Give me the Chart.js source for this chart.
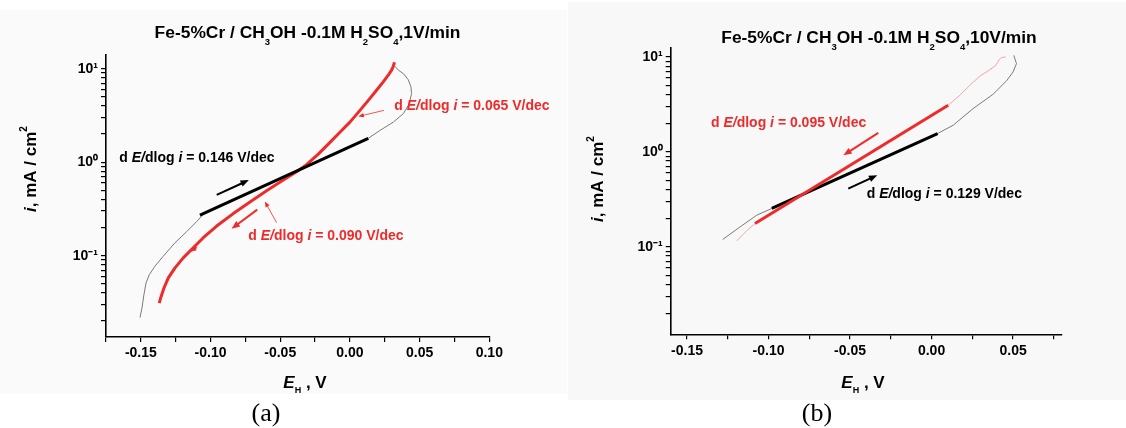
<!DOCTYPE html>
<html><head><meta charset="utf-8">
<script src="https://cdn.jsdelivr.net/npm/chart.js@4/dist/chart.umd.min.js"></script>
<style>
html,body{margin:0;padding:0;background:#fff;width:1126px;height:428px;overflow:hidden;}
#panelA{position:absolute;left:0;top:10px;width:567px;height:384px;background:#fafafa;}
#panelB{position:absolute;left:568px;top:2px;width:558px;height:398px;background:#f8f8f8;}
#cA{position:absolute;left:0;top:0;}
#cB{position:absolute;left:567px;top:0;}
</style></head><body>
<div id="panelA"></div><div id="panelB"></div>
<canvas id="cA" width="567" height="428"></canvas>
<canvas id="cB" width="559" height="428"></canvas>
<script>
// ---------- data : panel (a) 1 V/min ----------
const aForwardE = [-0.1506,-0.1492,-0.1478,-0.1463,-0.1439,-0.1399,-0.1339,-0.1255,-0.1172,-0.1100,-0.1052,0.0132,0.0215,0.0311,0.0383,0.0426,0.0442,0.0438,0.0418,0.0383,0.0347,0.0323];
const aForwardI = [0.0218,0.0275,0.0382,0.051,0.0627,0.0771,0.0988,0.1374,0.1804,0.231,0.2773,1.80,2.18,2.68,3.30,4.22,5.41,6.38,7.65,8.87,9.64,10.6];
const aReverseE = [0.0320,0.0311,0.0299,0.0275,0.0239,0.0191,0.0132,0.0072,0.0000,-0.0072,-0.0143,-0.0227,-0.0311,-0.0383,-0.0478,-0.0598,-0.0717,-0.0837,-0.0956,-0.1052,-0.1124,-0.1196,-0.1255,-0.1303,-0.1334,-0.1358,-0.1368];
const aReverseI = [11.7,10.6,9.64,8.51,7.22,5.87,4.58,3.58,2.68,2.09,1.63,1.22,0.94,0.79,0.643,0.494,0.376,0.282,0.2075,0.1556,0.1214,0.0948,0.074,0.0578,0.0451,0.0352,0.0311];
const aFitE = [-0.1076, 0.0132];
const aFitI = [0.272, 1.80];
const aArrowFromE = [-0.0956,-0.0665,0.0244,-0.0526,-0.1100];
const aArrowFromI = [0.447,0.311,3.58,0.2255,0.1235];
const aArrowToE   = [-0.0725,-0.0849,0.0060,-0.0610,-0.1148];
const aArrowToI   = [0.643,0.194,3.08,0.379,0.110];

// ---------- data : panel (b) 10 V/min ----------
const bForwardE = [-0.1281,-0.1174,-0.1072,-0.0980,0.0037,0.0133,0.0255,0.0378,0.0460,0.0500,0.0521,0.0504];
const bForwardI = [0.1196,0.1626,0.2155,0.2535,1.56,1.91,2.86,4.05,5.60,6.95,8.51,10.4];
const bReverseE = [0.0455,0.0429,0.0415,0.0404,0.0388,0.0347,0.0296,0.0235,0.0174,0.0102,-0.1083,-0.1134,-0.1195];
const bReverseI = [10.0,9.85,9.38,8.65,7.98,7.13,6.27,5.03,3.95,3.10,0.176,0.1475,0.1157];
const bFitBlackE = [-0.0980, 0.0037];
const bFitBlackI = [0.2535, 1.56];
const bFitRedE = [0.0102, -0.1083];
const bFitRedI = [3.10, 0.176];
const bArrowFromE = [-0.0327,-0.0511];
const bArrowFromI = [1.585,0.411];
const bArrowToE   = [-0.0541,-0.0333];
const bArrowToI   = [0.922,0.568];

// ---------- ticks ----------
const aXTicks = [-0.175,-0.15,-0.125,-0.10,-0.075,-0.05,-0.025,0,0.025,0.05,0.075,0.10];
const aXLabels = ['','-0.15','','-0.10','','-0.05','','0.00','','0.05','','0.10'];
const bXTicks = [-0.15,-0.125,-0.10,-0.075,-0.05,-0.025,0,0.025,0.05,0.075];
const bXLabels = ['-0.15','','-0.10','','-0.05','','0.00','','0.05',''];
const yTicks = [0.02,0.03,0.04,0.05,0.06,0.07,0.08,0.09,0.1,0.2,0.3,0.4,0.5,0.6,0.7,0.8,0.9,1,2,3,4,5,6,7,8,9,10];
const yMajorValues = [0.1, 1, 10];
const yMajorLabels = ['10\u207B\u00B9','10\u2070','10\u00B9'];

// ---------- drawing helpers ----------
const SANS = "'Liberation Sans', Arial, Helvetica, sans-serif";
const SERIF = "'Liberation Serif', 'Times New Roman', serif";
const RED = '#ee2b2b';
const pts = (xs, ys) => xs.map((x, k) => ({x, y: ys[k]}));
const B = s => 'bold ' + s + 'px ' + SANS;
const BI = s => 'italic bold ' + s + 'px ' + SANS;

function drawRich(ctx, runs, x, y, align, color) {
  let w = 0;
  for (const r of runs) { ctx.font = r.f; w += ctx.measureText(r.t).width; }
  let cx = align === 'center' ? x - w / 2 : (align === 'right' ? x - w : x);
  ctx.textAlign = 'left'; ctx.textBaseline = 'alphabetic';
  for (const r of runs) {
    ctx.font = r.f; ctx.fillStyle = r.c || color;
    ctx.fillText(r.t, cx, y + (r.dy || 0));
    cx += ctx.measureText(r.t).width;
  }
}
function arrow(ctx, x1, y1, x2, y2, color, lw, head) {
  const a = Math.atan2(y2 - y1, x2 - x1);
  ctx.save();
  ctx.strokeStyle = color; ctx.fillStyle = color; ctx.lineWidth = lw; ctx.lineCap = 'butt';
  ctx.beginPath(); ctx.moveTo(x1, y1);
  ctx.lineTo(x2 - Math.cos(a) * head * 0.7, y2 - Math.sin(a) * head * 0.7); ctx.stroke();
  ctx.beginPath(); ctx.moveTo(x2, y2);
  ctx.lineTo(x2 - head * Math.cos(a - 0.38), y2 - head * Math.sin(a - 0.38));
  ctx.lineTo(x2 - head * Math.cos(a + 0.38), y2 - head * Math.sin(a + 0.38));
  ctx.closePath(); ctx.fill();
  ctx.restore();
}
function slopeRuns(val, size) {
  return [
    {t: 'd ', f: B(size)}, {t: 'E/', f: BI(size)}, {t: 'dlog ', f: B(size)},
    {t: 'i', f: BI(size)}, {t: ' = ' + val + ' V/dec', f: B(size)}
  ];
}

function decor(p) {
  return {
    id: 'decor' + p.id,
    afterDatasetsDraw(chart) {
      const ctx = chart.ctx, xs = chart.scales.x, ys = chart.scales.y;
      p.arrows.fromE.forEach((e, k) => {
        const st = p.arrowStyle[k];
        arrow(ctx, xs.getPixelForValue(e), ys.getPixelForValue(p.arrows.fromI[k]),
              xs.getPixelForValue(p.arrows.toE[k]), ys.getPixelForValue(p.arrows.toI[k]),
              st[0], st[1], st[2]);
      });
    },
    afterDraw(chart) {
      const ctx = chart.ctx;
      ctx.save();
      // title
      drawRich(ctx, [
        {t: 'Fe-5%Cr / CH', f: B(17.4)}, {t: '3', f: B(9.5), dy: 7}, {t: 'OH -0.1M H', f: B(17.4)},
        {t: '2', f: B(9.5), dy: 7}, {t: 'SO', f: B(17.4)}, {t: '4', f: B(9.5), dy: 7}, {t: ',' + p.rate, f: B(17.4)}
      ], p.titleX, p.titleY, 'center', '#000');
      // x title
      drawRich(ctx, [{t: 'E', f: BI(17)}, {t: 'H', f: B(9), dy: 5.5}, {t: ' , V', f: B(17)}],
               p.xtX, p.xtY, 'center', '#000');
      // y title
      ctx.save();
      ctx.translate(p.ytX, p.ytY); ctx.rotate(-Math.PI / 2);
      drawRich(ctx, [{t: 'i', f: BI(17)}, {t: ', mA / cm', f: B(17)}, {t: '2', f: B(10), dy: -9}],
               0, 0, 'center', '#000');
      ctx.restore();
      // slope annotations
      p.notes.forEach(n => drawRich(ctx, slopeRuns(n.v, 14), n.x, n.y, 'left', n.c));
      // panel letter
      ctx.font = '26px ' + SERIF; ctx.fillStyle = '#000'; ctx.textAlign = 'center';
      ctx.fillText(p.letter, p.letterX, p.letterY);
      ctx.restore();
    }
  };
}

function build(id, p) {
  return new Chart(document.getElementById(id), {
    type: 'scatter',
    data: {datasets: p.datasets},
    options: {
      responsive: false, animation: false, devicePixelRatio: 1,
      layout: {padding: {left: 0, top: p.top, right: p.right, bottom: 0}},
      plugins: {legend: {display: false}, tooltip: {enabled: false}, title: {display: false}},
      elements: {point: {radius: 0}, line: {tension: 0}},
      scales: {
        x: {
          type: 'linear', min: p.xMin, max: p.xMax,
          afterFit: s => { s.height = p.xAxisH; },
          afterBuildTicks: s => { s.ticks = p.xTicks.map(v => ({value: v})); },
          grid: {drawOnChartArea: false, drawTicks: true, tickLength: 5, color: '#000', lineWidth: 1.2},
          border: {display: true, color: '#000', width: 1.6},
          ticks: {color: '#000', font: {family: SANS, size: 14, weight: 'bold'}, padding: 3,
                  autoSkip: false, maxRotation: 0, minRotation: 0,
                  callback: (v, i) => p.xLabels[i]}
        },
        y: {
          type: 'logarithmic', min: p.yMin, max: p.yMax,
          afterFit: s => { s.width = p.yAxisW; },
          afterBuildTicks: s => { s.ticks = yTicks.map(v => ({value: v})); },
          grid: {drawOnChartArea: false, drawTicks: true, tickLength: 5, color: '#000', lineWidth: 1.2},
          border: {display: true, color: '#000', width: 1.6},
          ticks: {color: '#000', font: {family: SANS, size: 14, weight: 'bold'}, padding: 3, autoSkip: false,
                  callback: (v) => {
                    const k = yMajorValues.findIndex(m => Math.abs(m - v) / m < 1e-6);
                    return k >= 0 ? yMajorLabels[k] : '';
                  }}
        }
      }
    },
    plugins: [decor(p)]
  });
}

const lineDs = (data, color, w, order) => ({data, showLine: true, borderColor: color, borderWidth: w,
  pointRadius: 0, fill: false, order, borderJoinStyle: 'round', borderCapStyle: 'butt'});

build('cA', {
  id: 'A', top: 55, right: 77.7, xAxisH: 91, yAxisW: 106,
  xMin: -0.175, xMax: 0.10, yMin: 0.0135, yMax: 14,
  xTicks: aXTicks, xLabels: aXLabels,
  datasets: [
    lineDs(pts(aForwardE, aForwardI), '#7a7a7a', 1, 3),
    lineDs(pts(aReverseE, aReverseI), RED, 3, 2),
    lineDs(pts(aFitE, aFitI), '#000', 3, 1)
  ],
  arrows: {fromE: aArrowFromE, fromI: aArrowFromI, toE: aArrowToE, toI: aArrowToI},
  arrowStyle: [['#000', 2, 9], [RED, 2, 9], [RED, 0.8, 6], [RED, 0.8, 6], [RED, 2, 7]],
  rate: '1V/min', titleX: 307.5, titleY: 37.7,
  xtX: 305, xtY: 387.5, ytX: 35.5, ytY: 169,
  notes: [
    {v: '0.146', x: 119.3, y: 161.7, c: '#000'},
    {v: '0.090', x: 248.3, y: 240, c: RED},
    {v: '0.065', x: 394.3, y: 110, c: RED}
  ],
  letter: '(a)', letterX: 266, letterY: 421
});

build('cB', {
  id: 'B', top: 47.7, right: 64, xAxisH: 93.7, yAxisW: 103.7,
  xMin: -0.16, xMax: 0.08, yMin: 0.012, yMax: 12.5,
  xTicks: bXTicks, xLabels: bXLabels,
  datasets: [
    lineDs(pts(bForwardE, bForwardI), '#7a7a7a', 1, 4),
    lineDs(pts(bReverseE, bReverseI), '#f4a3a3', 1, 3),
    lineDs(pts(bFitBlackE, bFitBlackI), '#000', 3, 2),
    lineDs(pts(bFitRedE, bFitRedI), RED, 3, 1)
  ],
  arrows: {fromE: bArrowFromE, fromI: bArrowFromI, toE: bArrowToE, toI: bArrowToI},
  arrowStyle: [[RED, 2, 9], ['#000', 2, 9]],
  rate: '10V/min', titleX: 312, titleY: 42.5,
  xtX: 296, xtY: 387.5, ytX: 36.3, ytY: 179,
  notes: [
    {v: '0.095', x: 144, y: 126.7, c: RED},
    {v: '0.129', x: 299.7, y: 198.3, c: '#000'}
  ],
  letter: '(b)', letterX: 250, letterY: 421
});
</script>
</body></html>
